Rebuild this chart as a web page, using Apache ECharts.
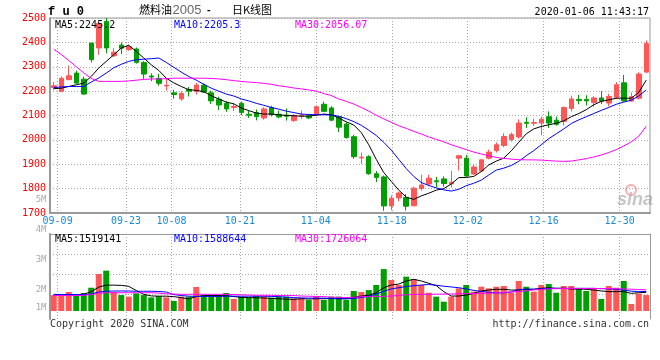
<!DOCTYPE html>
<html><head><meta charset="utf-8">
<script src="https://cdn.jsdelivr.net/npm/echarts@6/dist/echarts.min.js"></script>
<style>html,body{margin:0;padding:0;background:#fff}#c{width:660px;height:360px}</style>
</head><body><div id="c"></div>
<script>
const dates = ['09-06','09-09','09-10','09-11','09-12','09-16','09-17','09-18','09-19','09-20',
'09-23','09-24','09-25','09-26','09-27','09-30','10-08','10-09','10-10','10-11',
'10-14','10-15','10-16','10-17','10-18','10-21','10-22','10-23','10-24','10-25',
'10-28','10-29','10-30','10-31','11-01','11-04','11-05','11-06','11-07','11-08',
'11-11','11-12','11-13','11-14','11-15','11-18','11-19','11-20','11-21','11-22',
'11-25','11-26','11-27','11-28','11-29','12-02','12-03','12-04','12-05','12-06',
'12-09','12-10','12-11','12-12','12-13','12-16','12-17','12-18','12-19','12-20',
'12-23','12-24','12-25','12-26','12-27','12-30','12-31','01-02','01-03','01-06'];
const tickDates = ['09-09','09-23','10-08','10-21','11-04','11-18','12-02','12-16','12-30'];

const open = [2215,2199,2247,2274,2249,2397,2377,2486,2345,2389,
2370,2373,2317,2262,2252,2221,2193,2168,2207,2199,
2224,2193,2167,2150,2133,2150,2105,2112,2090,2133,
2105,2102,2079,2098,2098,2104,2146,2131,2095,2065,
2013,1926,1931,1861,1848,1729,1762,1764,1730,1800,
1819,1832,1840,1820,1925,1925,1860,1872,1925,1956,
1977,2002,2012,2072,2068,2069,2095,2081,2076,2129,
2166,2166,2153,2172,2151,2175,2234,2159,2171,2278];
const close = [2222,2253,2263,2233,2188,2329,2478,2377,2360,2376,
2382,2318,2270,2258,2232,2224,2186,2191,2200,2225,
2196,2160,2143,2127,2137,2112,2101,2095,2127,2104,
2094,2097,2100,2102,2090,2136,2117,2081,2052,2010,
1931,1929,1861,1846,1729,1761,1782,1728,1802,1815,
1843,1828,1821,1826,1935,1852,1889,1918,1950,1980,
2014,2022,2069,2068,2071,2085,2069,2064,2133,2168,
2161,2160,2172,2159,2178,2226,2160,2177,2270,2395];
const low = [2205,2196,2246,2230,2185,2318,2349,2355,2340,2352,
2366,2313,2250,2241,2222,2203,2169,2160,2178,2186,
2192,2147,2122,2115,2118,2101,2090,2080,2083,2096,
2088,2079,2074,2086,2085,2100,2114,2077,2032,2005,
1922,1901,1857,1827,1709,1711,1748,1710,1727,1792,
1810,1805,1808,1805,1874,1848,1856,1868,1920,1948,
1970,1993,2005,2049,2057,2019,2049,2058,2059,2117,
2146,2141,2136,2147,2137,2167,2157,2157,2166,2274];
const high = [2237,2260,2305,2284,2259,2398,2480,2500,2376,2400,
2390,2379,2323,2273,2271,2253,2205,2199,2217,2234,
2232,2202,2177,2159,2150,2157,2120,2125,2134,2140,
2120,2129,2106,2120,2105,2138,2157,2138,2097,2071,
2021,1948,1937,1872,1854,1772,1788,1778,1808,1857,
1857,1848,1850,1873,1938,1938,1898,1920,1960,1990,
2027,2030,2084,2093,2087,2096,2117,2096,2137,2181,
2185,2183,2179,2200,2189,2237,2266,2195,2277,2408];

const ma5 = [2210,2212,2219,2226,2233,2260,2295,2322,2349,2377,
2388,2363,2336,2308,2285,2253,2234,2219,2206,2203,
2198,2181,2168,2155,2148,2131,2120,2110,2106,2106,
2103,2100,2099,2097,2098,2101,2106,2103,2090,2074,
2061,2030,1980,1920,1866,1830,1794,1765,1756,1770,
1781,1794,1800,1819,1845,1846,1850,1870,1897,1913,
1925,1955,1990,2025,2045,2055,2062,2068,2078,2095,
2108,2124,2144,2158,2164,2171,2171,2171,2195,2245.2];
const ma10 = [2215,2217,2219,2219,2219,2237,2254,2274,2296,2310,
2322,2329,2331,2333,2336,2318,2298,2278,2260,2245,
2228,2212,2200,2188,2180,2168,2160,2150,2142,2133,
2126,2118,2112,2106,2104,2103,2103,2102,2097,2087,
2075,2060,2040,2018,1990,1958,1920,1882,1850,1825,
1813,1803,1795,1790,1797,1812,1822,1835,1856,1876,
1884,1895,1912,1935,1956,1980,2005,2025,2045,2067,
2082,2095,2108,2121,2133,2146,2155,2163,2180,2205.3];
const ma30 = [2372,2350,2326,2300,2275,2252,2240,2240,2240,2240,
2242,2245,2248,2250,2250,2251,2253,2253,2253,2253,
2253,2252,2250,2247,2243,2240,2237,2235,2232,2228,
2222,2218,2213,2209,2205,2200,2190,2182,2168,2158,
2147,2133,2118,2101,2086,2072,2058,2047,2035,2024,
2012,2002,1992,1980,1970,1960,1950,1942,1935,1928,
1924,1921,1919,1918,1918,1917,1915,1913,1912,1913,
1918,1923,1930,1938,1948,1960,1975,1992,2015,2056.07];

// volume, in millions of lots
const volume = [1.30,1.25,1.55,1.25,1.47,1.90,3.02,3.29,1.55,1.30,
1.17,1.44,1.30,1.11,1.22,1.11,0.82,1.17,1.17,1.96,
1.30,1.30,1.30,1.47,0.98,1.17,1.09,1.22,1.22,1.09,
1.17,1.17,1.03,1.03,0.90,1.22,0.90,1.17,1.17,0.90,
1.63,1.55,1.71,2.12,3.42,2.53,2.12,2.80,2.61,2.12,
1.49,1.17,0.76,1.17,1.85,2.12,1.58,1.98,1.85,1.98,
2.04,1.49,2.45,1.98,1.58,2.12,2.20,1.49,2.04,2.04,
1.85,1.63,1.85,0.98,2.04,1.90,2.45,0.57,1.41,1.30];
const volMa5 = [1.30,1.30,1.30,1.32,1.38,1.57,1.95,2.11,2.11,2.09,
2.01,1.67,1.36,1.23,1.21,1.21,1.17,1.09,0.98,1.18,
1.25,1.27,1.26,1.25,1.18,1.11,1.09,1.08,1.06,1.03,
1.00,0.96,0.95,1.00,0.98,1.00,1.00,1.02,1.01,1.01,
1.11,1.22,1.28,1.49,1.90,2.12,2.20,2.45,2.58,2.45,
2.26,2.07,1.58,1.22,1.22,1.30,1.44,1.63,1.71,1.77,
1.77,1.71,1.71,1.77,1.77,1.85,1.90,1.85,1.85,1.79,
1.79,1.77,1.71,1.63,1.58,1.58,1.58,1.44,1.49,1.519141];
const volMa10 = [1.36,1.34,1.34,1.34,1.34,1.38,1.55,1.61,1.63,1.63,
1.63,1.61,1.61,1.61,1.59,1.55,1.34,1.26,1.21,1.19,
1.19,1.19,1.19,1.21,1.21,1.21,1.21,1.21,1.21,1.19,
1.17,1.13,1.09,1.07,1.05,1.05,1.05,1.02,1.00,0.99,
1.02,1.10,1.20,1.38,1.60,1.80,1.90,2.00,2.06,2.12,
2.16,2.10,2.02,1.96,1.90,1.80,1.68,1.60,1.52,1.48,
1.48,1.55,1.75,1.78,1.78,1.80,1.84,1.85,1.85,1.85,
1.85,1.85,1.85,1.82,1.80,1.76,1.70,1.62,1.58,1.588644];
const volMa30 = [1.26,1.26,1.26,1.26,1.28,1.34,1.46,1.49,1.49,1.49,
1.49,1.49,1.49,1.49,1.46,1.40,1.38,1.36,1.36,1.36,
1.36,1.36,1.36,1.36,1.34,1.32,1.30,1.28,1.28,1.28,
1.26,1.26,1.26,1.22,1.20,1.19,1.17,1.13,1.11,1.10,
1.12,1.17,1.17,1.18,1.20,1.22,1.26,1.33,1.35,1.36,
1.36,1.37,1.38,1.39,1.40,1.42,1.43,1.44,1.46,1.48,
1.52,1.55,1.58,1.65,1.72,1.76,1.80,1.82,1.83,1.83,
1.83,1.83,1.83,1.83,1.83,1.82,1.80,1.78,1.75,1.726064];

const volTickLabels = ['5M','4M','3M','2M','1M'];

const UP = '#ff5656', DOWN = '#009e00';
const mono = '"DejaVu Sans Mono", "Liberation Mono", monospace';
const dotted = {color: '#a8a8a8', width: 1, type: [1, 2]};
const isTick = (idx, val) => tickDates.indexOf(val) >= 0;
const candles = dates.map((d, i) => [open[i], close[i], low[i], high[i]]);

const chart = echarts.init(document.getElementById('c'), null, {renderer: 'canvas'});

function txt(x, y, text, fill, font, align) {
  return {type: 'text', x: x, y: y, z: 100, silent: true,
    style: {text: text, fill: fill, font: font, align: align || 'left', verticalAlign: 'middle'}};
}
const volLabelY = [200, 230, 260, 290, 308];
const graphics = [
  txt(48, 12, 'f u 0', '#000', 'bold 12px "Liberation Mono", monospace'),
  txt(139, 10, '燃料油', '#000', '11px "Noto Sans CJK SC"'),
  txt(172.5, 10, '2005', '#666', '13px "Liberation Sans", sans-serif'),
  txt(207, 10, '-', '#000', 'bold 11px "Liberation Sans", sans-serif'),
  txt(232, 10, '日K线图', '#000', '11px "Noto Sans CJK SC"'),
  txt(649, 12, '2020-01-06 11:43:17', '#000', '10px ' + mono, 'right'),
  txt(55, 25, 'MA5:2245.2', '#000', '10px ' + mono),
  txt(174, 25, 'MA10:2205.3', '#0000ff', '10px ' + mono),
  txt(295, 25, 'MA30:2056.07', '#ff00ff', '10px ' + mono),
  txt(55, 239, 'MA5:1519141', '#000', '10px ' + mono),
  txt(174, 239, 'MA10:1588644', '#0000ff', '10px ' + mono),
  txt(295, 239, 'MA30:1726064', '#ff00ff', '10px ' + mono),
  txt(50, 324, 'Copyright 2020 SINA.COM', '#333', '10px ' + mono),
  txt(649, 324, 'http://finance.sina.com.cn', '#333', '10px ' + mono, 'right'),
  {type: 'circle', z: 90, silent: true, shape: {cx: 631, cy: 190, r: 5},
   style: {fill: 'none', stroke: 'rgba(240,110,110,0.55)', lineWidth: 2}},
  txt(617, 200, 'sina', 'rgba(150,150,150,0.55)', 'italic bold 18px "Liberation Sans", sans-serif')
];
volTickLabels.forEach((t, i) => graphics.push(txt(46.5, volLabelY[i], t, '#aaa', '9px ' + mono, 'right')));

const option = {
  animation: false,
  backgroundColor: '#fff',
  grid: [
    {left: 50, top: 18, width: 600, height: 195, show: true, borderColor: '#999', borderWidth: 1},
    {left: 50, top: 234, width: 600, height: 77},
    {left: 50, top: 234, width: 600, height: 85}
  ],
  xAxis: [
    {type: 'category', gridIndex: 0, data: dates, boundaryGap: true, position: 'top', show: false},
    {type: 'category', gridIndex: 0, data: dates, boundaryGap: false, position: 'bottom',
     axisLine: {onZero: false, lineStyle: {color: '#999', width: 2}}, axisTick: {show: false},
     axisLabel: {interval: isTick, color: '#1a8ad8', fontFamily: mono, fontSize: 10, margin: 3},
     splitLine: {show: true, interval: isTick, lineStyle: dotted}},
    {type: 'category', gridIndex: 1, data: dates, boundaryGap: true, position: 'bottom', show: false},
    {type: 'category', gridIndex: 2, data: dates, boundaryGap: false, position: 'top',
     axisLine: {show: true, onZero: false, lineStyle: {color: '#999', width: 1}}, axisTick: {show: false},
     axisLabel: {show: false}, splitLine: {show: true, interval: isTick, lineStyle: dotted}}
  ],
  yAxis: [
    {type: 'value', gridIndex: 0, min: 1700, max: 2500, interval: 100, position: 'left',
     axisLine: {show: true, onZero: false, lineStyle: {color: '#999', width: 2}}, axisTick: {show: false},
     axisLabel: {color: '#ff0000', fontFamily: mono, fontSize: 10, margin: 4, showMinLabel: true, showMaxLabel: true,
       padding: [0, 0, 4, 0], formatter: v => String(v)},
     splitLine: {show: true, lineStyle: dotted}},
    {type: 'value', gridIndex: 1, min: 0, max: 6.28, position: 'left', show: false},
    {type: 'value', gridIndex: 1, min: 0, max: 77, interval: 20, inverse: true, position: 'right',
     axisLine: {show: false}, axisTick: {show: false}, axisLabel: {show: false},
     splitLine: {show: true, showMinLine: false, showMaxLine: false, lineStyle: dotted}},
    {type: 'value', gridIndex: 2, position: 'left',
     axisLine: {show: true, onZero: false, lineStyle: {color: '#999', width: 2}}, axisTick: {show: false},
     axisLabel: {show: false}, splitLine: {show: false}},
    {type: 'value', gridIndex: 2, position: 'right',
     axisLine: {show: true, onZero: false, lineStyle: {color: '#999', width: 1}}, axisTick: {show: false},
     axisLabel: {show: false}, splitLine: {show: false}}
  ],
  series: [
    {type: 'candlestick', xAxisIndex: 0, yAxisIndex: 0, data: candles, barWidth: 5,
     itemStyle: {color: UP, color0: DOWN, borderColor: UP, borderColor0: DOWN, borderWidth: 1}},
    {type: 'line', xAxisIndex: 0, yAxisIndex: 0, data: ma5, symbol: 'none', lineStyle: {color: '#000', width: 1}},
    {type: 'line', xAxisIndex: 0, yAxisIndex: 0, data: ma10, symbol: 'none', lineStyle: {color: '#0000ff', width: 1}},
    {type: 'line', xAxisIndex: 0, yAxisIndex: 0, data: ma30, symbol: 'none', lineStyle: {color: '#ff00ff', width: 1}},
    {type: 'bar', xAxisIndex: 2, yAxisIndex: 1, data: volume, barWidth: 6,
     itemStyle: {color: p => close[p.dataIndex] > open[p.dataIndex] ? UP : DOWN}},
    {type: 'line', xAxisIndex: 2, yAxisIndex: 1, data: volMa5, symbol: 'none', lineStyle: {color: '#000', width: 1}},
    {type: 'line', xAxisIndex: 2, yAxisIndex: 1, data: volMa10, symbol: 'none', lineStyle: {color: '#0000ff', width: 1}},
    {type: 'line', xAxisIndex: 2, yAxisIndex: 1, data: volMa30, symbol: 'none', lineStyle: {color: '#ff00ff', width: 1}}
  ],
  graphic: graphics
};
chart.setOption(option);
</script>
</body></html>
